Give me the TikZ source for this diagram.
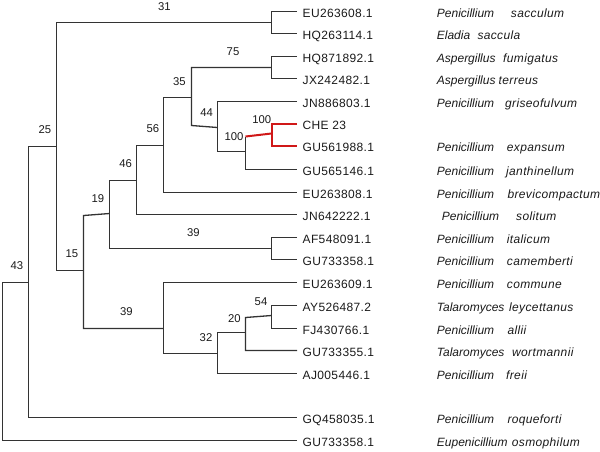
\documentclass[tikz,border=0pt]{standalone}
\usepackage{fontspec}
\setmainfont{Liberation Sans}
\definecolor{ln}{HTML}{333333}
\definecolor{tx}{HTML}{1A1A1A}
\definecolor{rd}{HTML}{D01818}
\begin{document}
\begin{tikzpicture}[x=1pt,y=-1pt,
  br/.style={draw=ln, line width=1.3pt},
  redbr/.style={draw=rd, line width=2pt},
  acc/.style={anchor=west, inner xsep=5.5pt, inner ysep=0pt, text height=12.8pt, text depth=0pt, font=\fontsize{12}{14}\selectfont\addfontfeature{LetterSpace=3}, text=tx},
  gn/.style={anchor=base west, inner sep=0pt, font=\fontsize{12}{14}\selectfont\itshape, text=tx, yshift=-6.4pt},
  sp/.style={anchor=base west, inner sep=0pt, font=\fontsize{12}{14}\selectfont\itshape\addfontfeature{LetterSpace=3}, text=tx, yshift=-6.4pt},
  bs/.style={font=\fontsize{11.3}{13}\selectfont, text=tx, inner sep=0pt}]
\useasboundingbox (0,0) rectangle (600,451);

% leaves (accession labels)
\foreach \i/\y/\acc in {1/11.5/EU263608.1, 2/33.5/HQ263114.1, 3/56.5/HQ871892.1, 4/78.5/JX242482.1,
  5/101.5/JN886803.1, 6/123.5/CHE 23, 7/145.5/GU561988.1, 8/169.5/GU565146.1, 9/192.5/EU263808.1,
  10/214.5/JN642222.1, 11/237.5/AF548091.1, 12/259.5/GU733358.1, 13/282.5/EU263609.1,
  14/305.5/AY526487.2, 15/328.5/FJ430766.1, 16/350.5/GU733355.1, 17/373.5/AJ005446.1,
  18/417.5/GQ458035.1, 19/440.5/GU733358.1}
  \node[acc] (a\i) at (297,\y) {\acc};

% species names
\foreach \i/\y/\gen/\gx/\spc/\sx in {1/11.5/Penicillium/436.7/sacculum/510.7,
  2/33.5/Eladia/436.7/saccula/477.3, 3/56.5/Aspergillus/436.7/fumigatus/503,
  4/78.5/Aspergillus/436.7/terreus/498.5, 5/101.5/Penicillium/436.7/griseofulvum/505,
  7/145.5/Penicillium/436.7/expansum/506.7, 8/169.5/Penicillium/436.7/janthinellum/506,
  9/192.5/Penicillium/436.7/brevicompactum/507.3, 10/214.5/Penicillium/441.7/solitum/516,
  11/237.5/Penicillium/436.7/italicum/506.7, 12/259.5/Penicillium/436.7/camemberti/506.7,
  13/282.5/Penicillium/436.7/commune/506.7, 14/305.5/Talaromyces/436.7/leycettanus/509,
  15/328.5/Penicillium/436.7/allii/507.3, 16/350.5/Talaromyces/436.7/wortmannii/512,
  17/373.5/Penicillium/436.7/freii/506, 18/417.5/Penicillium/436.7/roqueforti/507.3,
  19/440.5/Eupenicillium/436.7/osmophilum/511.7}
  {\node[gn] (g\i) at (\gx,\y) {\gen};
   \node[sp] (s\i) at (\sx,\y) {\spc};}

% internal nodes
\coordinate (r) at (2.5,282.5);
\coordinate (b1) at (28.5,282.5);
\coordinate (b2) at (56.5,146.5);
\coordinate (sac) at (271.5,22.5);
\coordinate (b3) at (83.5,270.5);
\coordinate (b3t) at (83.5,215.5);
\coordinate (b4) at (109.5,213.5);
\coordinate (ital) at (271.5,248.5);
\coordinate (b5) at (136.5,180.5);
\coordinate (b6) at (163.5,145.5);
\coordinate (b7) at (191.5,97.5);
\coordinate (b7b) at (191.5,125.5);
\coordinate (asp) at (271.5,67.5);
\coordinate (b8) at (217.5,127.5);
\coordinate (b10) at (245.5,151.5);
\coordinate (b10t) at (245.5,136.5);
\coordinate (red) at (271.5,133.5);
\coordinate (b9) at (163.5,328.5);
\coordinate (b11) at (217.5,353.5);
\coordinate (b12) at (245.5,332.5);
\coordinate (b12t) at (245.5,317.5);
\coordinate (b13) at (271.5,315.5);

% branches
\draw[br] (b1) -- (r) |- (a19.west);
\draw[br] (b2) -| (b1) |- (a18.west);
\draw[br] (sac) -| (b2) |- (b3);
\draw[br] (a1.west) -| (sac) |- (a2.west);
\draw[br] (b4) -- (b3t) -- (b3) |- (b9);
\draw[br] (b5) -| (b4) |- (ital);
\draw[br] (a11.west) -| (ital) |- (a12.west);
\draw[br] (b6) -| (b5) |- (a10.west);
\draw[br] (b7) -| (b6) |- (a9.west);
\draw[br] (asp) -| (b7) -- (b7b) -- (b8);
\draw[br] (a3.west) -| (asp) |- (a4.west);
\draw[br] (a5.west) -| (b8) |- (b10);
\draw[br] (b10t) -- (b10) |- (a8.west);
\draw[redbr] (b10t) -- (red);
\draw[redbr] (a6.west) -| (red) |- (a7.west);
\draw[br] (a13.west) -| (b9) |- (b11);
\draw[br] (b12) -| (b11) |- (a17.west);
\draw[br] (b13) -- (b12t) -- (b12) |- (a16.west);
\draw[br] (a14.west) -| (b13) |- (a15.west);

% bootstrap values
\foreach \k/\x/\y/\v in {1/164.5/6.7/31, 2/233/51.7/75, 3/179.3/81.7/35, 4/206.7/112.7/44,
  5/153/128.3/56, 6/45/130/25, 7/261.7/120/100, 8/234/136.7/100, 9/125.7/163.8/46,
  10/98/198.3/19, 11/193.3/232.8/39, 12/72/254/15, 13/17/265.7/43, 14/261/301.7/54,
  15/126.3/312/39, 16/234.3/318.3/20, 17/206/337.7/32}
  \node[bs] (l\k) at (\x,\y) {\v};
\end{tikzpicture}
\end{document}
